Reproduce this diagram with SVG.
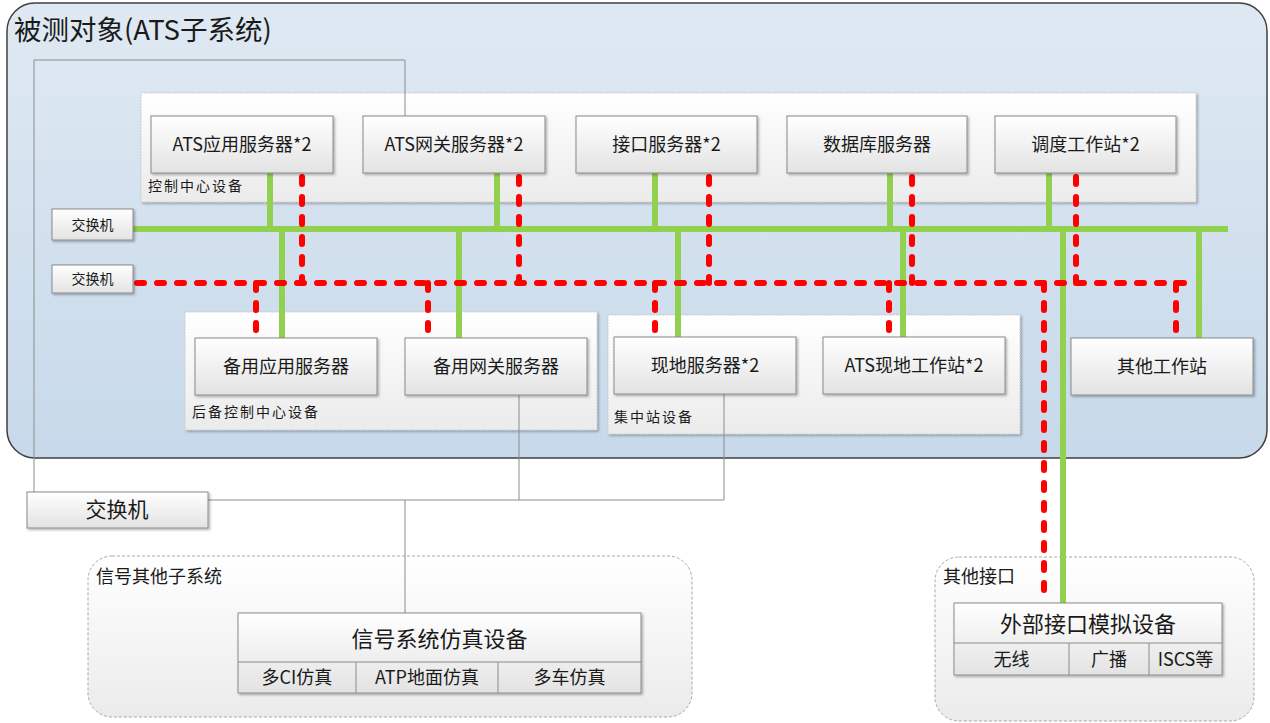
<svg xmlns="http://www.w3.org/2000/svg" width="1270" height="723" viewBox="0 0 1270 723">
<defs>
  <linearGradient id="gOuter" x1="0" y1="0" x2="0" y2="1">
    <stop offset="0" stop-color="#dfe9f3"/>
    <stop offset="1" stop-color="#c7d9ea"/>
  </linearGradient>
  <linearGradient id="gBox" x1="0" y1="0" x2="0" y2="1">
    <stop offset="0" stop-color="#ffffff"/>
    <stop offset="1" stop-color="#e3e3e3"/>
  </linearGradient>
  <linearGradient id="gGroup" x1="0" y1="0" x2="0" y2="1">
    <stop offset="0" stop-color="#ffffff"/>
    <stop offset="1" stop-color="#ebebeb"/>
  </linearGradient>
  <filter id="sh" x="-5%" y="-10%" width="115%" height="140%">
    <feDropShadow dx="1.5" dy="1.5" stdDeviation="1.2" flood-color="#000000" flood-opacity="0.3"/>
  </filter>
</defs>
<style>
  text { font-family: "Noto Sans CJK SC", "Noto Sans", sans-serif; fill: #1a1a1a; }
  .box { fill: url(#gBox); stroke: #8a8a8a; stroke-width: 1; filter: url(#sh); }
  .grp { fill: url(#gGroup); stroke: #d0d0d0; stroke-width: 1; stroke-dasharray: 2 1; filter: url(#sh); }
  .sub { fill: url(#gGroup); stroke: #a8a8a8; stroke-width: 1; stroke-dasharray: 3 2; }
  .g { stroke: #92d050; stroke-width: 6; fill: none; }
  .r { stroke: #ff0000; stroke-width: 6; fill: none; stroke-dasharray: 7 13; stroke-linecap: round; }
  .thin { stroke: #8c8c8c; stroke-width: 1; fill: none; }
  .div { stroke: #8a8a8a; stroke-width: 1; fill: none; }
  .c { text-anchor: middle; }
  .t18 { font-size: 18px; }
  .t14 { font-size: 14px; }
  .lbl { font-size: 14px; letter-spacing: 2px; }
  .big { font-size: 22px; }
  .grpl { font-size: 18px; }
</style>

<!-- Outer system container -->
<g id="ats-system">
  <rect x="7" y="3" width="1260" height="455" rx="28" fill="url(#gOuter)" stroke="#404040" stroke-width="1.5"/>
  <text x="14" y="40" font-size="27.5">被测对象(ATS子系统)</text>
</g>

<!-- Groups -->
<g id="grp-control">
  <rect class="grp" x="141" y="93" width="1055" height="109"/>
  <text class="lbl" x="148" y="191">控制中心设备</text>
</g>
<g id="grp-backup">
  <rect class="grp" x="185" y="312" width="412" height="118"/>
  <text class="lbl" x="192" y="417">后备控制中心设备</text>
</g>
<g id="grp-station">
  <rect class="grp" x="608" y="315" width="412" height="119"/>
  <text class="lbl" x="614" y="422">集中站设备</text>
</g>
<g id="grp-signal-other">
  <rect class="sub" x="88" y="556" width="604" height="161" rx="24"/>
  <text class="grpl" x="96" y="583">信号其他子系统</text>
</g>
<g id="grp-other-if">
  <rect class="sub" x="935" y="557" width="319" height="164" rx="24"/>
  <text class="grpl" x="943" y="583">其他接口</text>
</g>

<!-- Connectors -->
<g id="connectors">
  <path class="thin" d="M34 492 V60 H405 V116"/>
  <path class="thin" d="M208 500 H724 V394"/>
  <path class="thin" d="M519 395 V500"/>
  <path class="thin" d="M405 500 V613"/>

  <path class="g" d="M133 229 H1228"/>
  <path class="g" d="M270 173 V229 M497 173 V229 M655 173 V229 M890 173 V229 M1049 173 V229"/>
  <path class="g" d="M282 229 V338 M459 229 V338 M678 229 V337 M903 229 V337 M1199 229 V338"/>
  <path class="g" d="M1063 229 V603"/>

  <path class="r" d="M137 283 H1192"/>
  <path class="r" d="M302 177 V283 M519 177 V283 M709 177 V283 M912 177 V283 M1076 177 V283"/>
  <path class="r" d="M256 283 V335 M428 283 V335 M655 283 V334 M889 283 V334 M1176 283 V335"/>
  <path class="r" d="M1044 283 V600"/>
</g>

<!-- Switches -->
<g id="sw-green">
  <rect class="box" x="52" y="209" width="81" height="31"/>
  <text class="t14 c" x="92.5" y="229.5">交换机</text>
</g>
<g id="sw-red">
  <rect class="box" x="52" y="265" width="81" height="28"/>
  <text class="t14 c" x="92.5" y="284">交换机</text>
</g>
<g id="sw-main">
  <rect class="box" x="27" y="492" width="181" height="36"/>
  <text class="c" font-size="21" x="117" y="517">交换机</text>
</g>

<!-- Control center nodes -->
<g id="ats-app">
  <rect class="box" x="151" y="116" width="182" height="57"/>
  <text class="t18 c" x="242" y="151">ATS应用服务器*2</text>
</g>
<g id="ats-gw">
  <rect class="box" x="363" y="116" width="182" height="57"/>
  <text class="t18 c" x="454" y="151">ATS网关服务器*2</text>
</g>
<g id="if-server">
  <rect class="box" x="576" y="116" width="181" height="57"/>
  <text class="t18 c" x="666.5" y="151">接口服务器*2</text>
</g>
<g id="db-server">
  <rect class="box" x="787" y="116" width="180" height="57"/>
  <text class="t18 c" x="877" y="151">数据库服务器</text>
</g>
<g id="dispatch">
  <rect class="box" x="995" y="116" width="181" height="57"/>
  <text class="t18 c" x="1085.5" y="151">调度工作站*2</text>
</g>

<!-- Lower row nodes -->
<g id="bk-app">
  <rect class="box" x="195" y="338" width="182" height="57"/>
  <text class="t18 c" x="286" y="373">备用应用服务器</text>
</g>
<g id="bk-gw">
  <rect class="box" x="405" y="338" width="182" height="57"/>
  <text class="t18 c" x="496" y="373">备用网关服务器</text>
</g>
<g id="local-server">
  <rect class="box" x="614" y="337" width="182" height="57"/>
  <text class="t18 c" x="705" y="372">现地服务器*2</text>
</g>
<g id="ats-local-ws">
  <rect class="box" x="823" y="337" width="182" height="57"/>
  <text class="t18 c" x="914" y="372">ATS现地工作站*2</text>
</g>
<g id="other-ws">
  <rect class="box" x="1071" y="338" width="182" height="57"/>
  <text class="t18 c" x="1162" y="373">其他工作站</text>
</g>

<!-- Signal simulation -->
<g id="sig-sim">
  <rect class="box" x="238" y="613" width="403" height="80"/>
  <path class="div" d="M238 662 H641 M356 662 V693 M498 662 V693"/>
  <text class="big c" x="439.5" y="647">信号系统仿真设备</text>
  <text class="t18 c" x="297" y="684">多CI仿真</text>
  <text class="t18 c" x="427" y="684">ATP地面仿真</text>
  <text class="t18 c" x="569.5" y="684">多车仿真</text>
</g>

<!-- External interface simulation -->
<g id="ext-sim">
  <rect class="box" x="954" y="603" width="268" height="72"/>
  <path class="div" d="M954 643 H1222 M1069 643 V675 M1149 643 V675"/>
  <text class="big c" x="1088" y="632">外部接口模拟设备</text>
  <text class="t18 c" x="1011.5" y="666">无线</text>
  <text class="t18 c" x="1109" y="666">广播</text>
  <text class="t18 c" x="1185.5" y="666">ISCS等</text>
</g>
</svg>
